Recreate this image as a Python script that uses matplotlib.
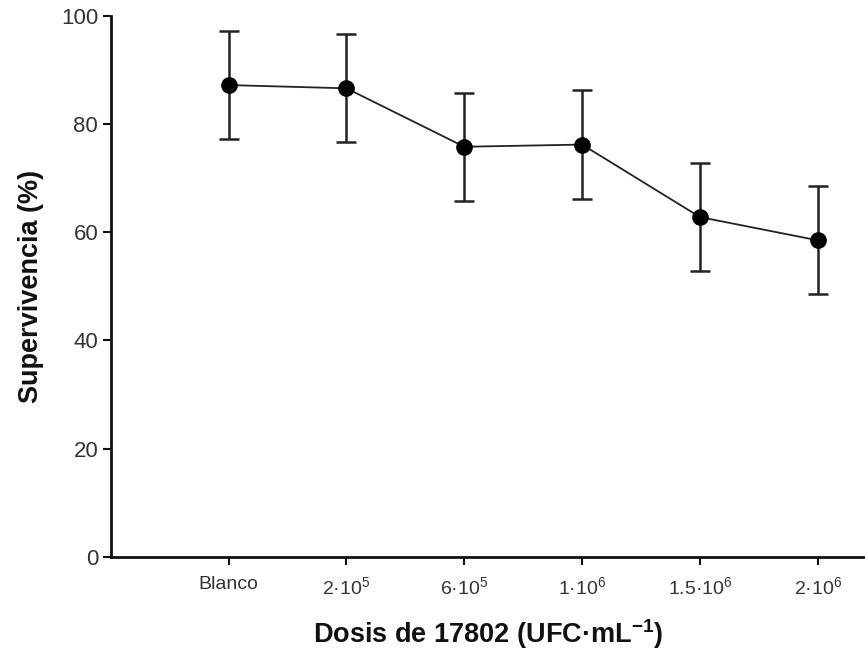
import matplotlib
matplotlib.use("Agg")
import matplotlib.pyplot as plt

# Survival data
doses = ["Blanco", "2·10$^5$", "6·10$^5$", "1·10$^6$", "1.5·10$^6$", "2·10$^6$"]
survival = [87.2, 86.6, 75.8, 76.2, 62.8, 58.5]
errors = [10.0, 10.0, 10.0, 10.0, 10.0, 10.0]

plt.rcParams['font.family'] = ['Liberation Sans', 'DejaVu Sans']
plt.rcParams['mathtext.fontset'] = 'custom'
plt.rcParams['mathtext.rm'] = 'Liberation Sans'
plt.rcParams['mathtext.it'] = 'Liberation Sans:italic'
plt.rcParams['mathtext.bf'] = 'Liberation Sans:bold'

fig = plt.figure(figsize=(8.65, 6.59), dpi=100)
ax = fig.add_axes([0.128, 0.155, 0.872, 0.821])

x = list(range(1, len(doses) + 1))
ax.errorbar(x, survival, yerr=errors, color="#222222", linewidth=1.3,
            elinewidth=1.8, capsize=7, capthick=1.8,
            marker="o", markersize=11, markerfacecolor="black",
            markeredgecolor="black", zorder=3)

ax.set_xlim(0, 6.4)
ax.set_ylim(0, 100)
ax.set_xticks(x)
ax.set_xticklabels(doses)
ax.set_yticks([0, 20, 40, 60, 80, 100])

for side in ["top", "right"]:
    ax.spines[side].set_visible(False)
for side in ["left", "bottom"]:
    ax.spines[side].set_linewidth(2)
    ax.spines[side].set_color("#111111")

ax.tick_params(axis="both", direction="out", length=6, width=1.5,
               colors="#111111", labelcolor="#333333")
ax.tick_params(axis="y", labelsize=16, pad=3)
ax.tick_params(axis="x", labelsize=14, pad=8)

ax.set_ylabel("Supervivencia (%)", fontsize=19.5, fontweight="bold",
              color="#111111", labelpad=12)
ax.set_xlabel("Dosis de 17802 (UFC·mL$^{\\mathbf{-1}}$)", fontsize=19.5,
              fontweight="bold", color="#111111", labelpad=14)

fig.savefig("out.png", dpi=100)
